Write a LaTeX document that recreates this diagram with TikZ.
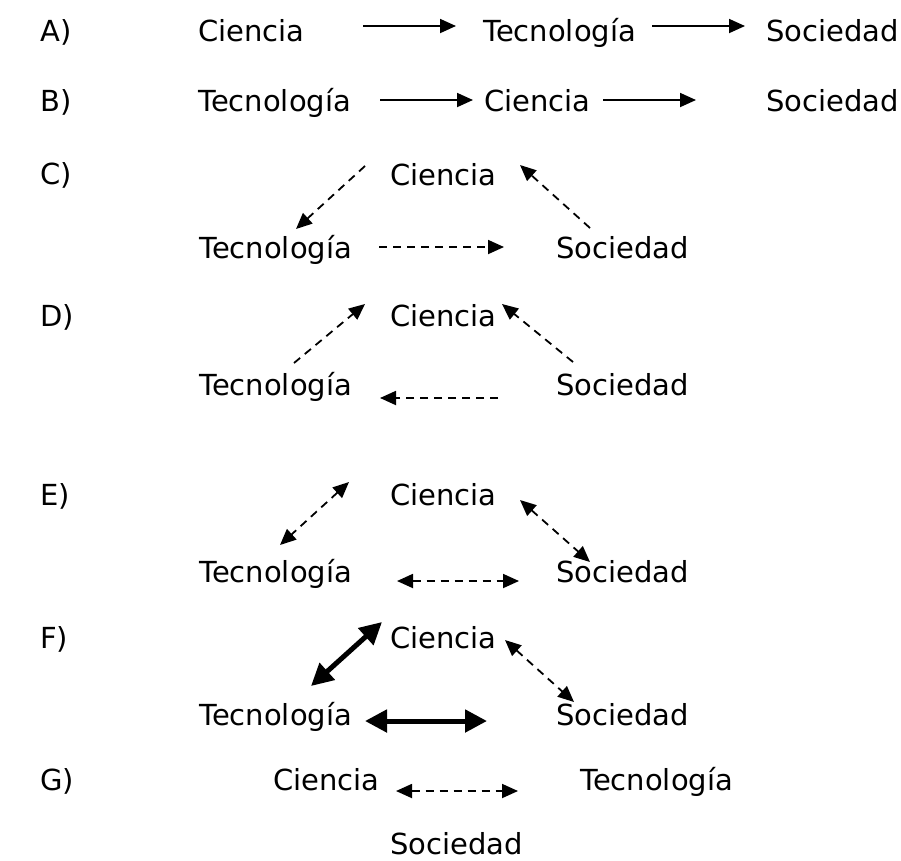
\documentclass[tikz,border=0pt]{standalone}
\usepackage{fontspec}
\setmainfont{DejaVu Sans}
\usetikzlibrary{arrows.meta}
\begin{document}
\begin{tikzpicture}[x=1pt,y=-1pt,
  lbl/.style={anchor=base west,inner sep=0pt,font=\fontsize{29}{34}\selectfont},
  solidarr/.style={line width=1.8pt,-{Triangle[length=16pt,width=14pt]}},
  dasharr/.style={line width=1.8pt,dash pattern=on 8pt off 6pt,-{Triangle[length=16pt,width=14pt]}},
  dashdbl/.style={line width=1.8pt,dash pattern=on 8pt off 6pt,{Triangle[length=16pt,width=14pt]}-{Triangle[length=16pt,width=14pt]}},
  thickdbl/.style={line width=5pt,{Triangle[length=22pt,width=22pt]}-{Triangle[length=22pt,width=22pt]}}]
\useasboundingbox (0,0) rectangle (901,860);
% labels
\node[lbl] (la) at (40,41) {A)};
\node[lbl] (lb) at (40,111) {B)};
\node[lbl] (lc) at (40,184) {C)};
\node[lbl] (ld) at (40,326) {D)};
\node[lbl] (le) at (40,505) {E)};
\node[lbl] (lf) at (40,648) {F)};
\node[lbl] (lg) at (40,790) {G)};
% Row A
\node[lbl] (aC) at (198,41) {Ciencia};
\node[lbl] (aT) at (483,41) {Tecnología};
\node[lbl] (aS) at (766,41) {Sociedad};
\coordinate (a1s) at (363,26); \coordinate (a1e) at (456,26);
\coordinate (a2s) at (652,26); \coordinate (a2e) at (745,26);
\draw[solidarr] (a1s) -- (a1e);
\draw[solidarr] (a2s) -- (a2e);
% Row B
\node[lbl] (bT) at (198,111) {Tecnología};
\node[lbl] (bC) at (484,111) {Ciencia};
\node[lbl] (bS) at (766,111) {Sociedad};
\coordinate (b1s) at (380,100); \coordinate (b1e) at (473,100);
\coordinate (b2s) at (603,100); \coordinate (b2e) at (696,100);
\draw[solidarr] (b1s) -- (b1e);
\draw[solidarr] (b2s) -- (b2e);
% Row C
\node[lbl] (cC) at (390,185) {Ciencia};
\node[lbl] (cT) at (199,258) {Tecnología};
\node[lbl] (cS) at (556,258) {Sociedad};
\coordinate (c1s) at (365,166); \coordinate (c1e) at (296,229);
\coordinate (c2s) at (590,228); \coordinate (c2e) at (520,165);
\coordinate (c3s) at (379,247); \coordinate (c3e) at (504,247);
\draw[dasharr] (c1s) -- (c1e);
\draw[dasharr] (c2s) -- (c2e);
\draw[dasharr] (c3s) -- (c3e);
% Row D
\node[lbl] (dC) at (390,326) {Ciencia};
\node[lbl] (dT) at (199,395) {Tecnología};
\node[lbl] (dS) at (556,395) {Sociedad};
\coordinate (d1s) at (294,363); \coordinate (d1e) at (365,304);
\coordinate (d2s) at (573,362); \coordinate (d2e) at (502,304);
\coordinate (d3s) at (498,398); \coordinate (d3e) at (380,398);
\draw[dasharr] (d1s) -- (d1e);
\draw[dasharr] (d2s) -- (d2e);
\draw[dasharr] (d3s) -- (d3e);
% Row E
\node[lbl] (eC) at (390,505) {Ciencia};
\node[lbl] (eT) at (199,582) {Tecnología};
\node[lbl] (eS) at (556,582) {Sociedad};
\coordinate (e1s) at (349,482); \coordinate (e1e) at (280,545);
\coordinate (e2s) at (520,500); \coordinate (e2e) at (590,562);
\coordinate (e3s) at (397,581); \coordinate (e3e) at (519,581);
\draw[dashdbl] (e1s) -- (e1e);
\draw[dashdbl] (e2s) -- (e2e);
\draw[dashdbl] (e3s) -- (e3e);
% Row F
\node[lbl] (fC) at (390,648) {Ciencia};
\node[lbl] (fT) at (199,725) {Tecnología};
\node[lbl] (fS) at (556,725) {Sociedad};
\coordinate (f1s) at (382,622); \coordinate (f1e) at (311,686);
\coordinate (f2s) at (505,640); \coordinate (f2e) at (574,702);
\coordinate (f3s) at (365,721); \coordinate (f3e) at (487,721);
\draw[thickdbl] (f1s) -- (f1e);
\draw[dashdbl] (f2s) -- (f2e);
\draw[thickdbl] (f3s) -- (f3e);
% Row G
\node[lbl] (gC) at (273,790) {Ciencia};
\node[lbl] (gT) at (580,790) {Tecnología};
\node[lbl] (gS) at (390,854) {Sociedad};
\coordinate (g1s) at (396,791); \coordinate (g1e) at (518,791);
\draw[dashdbl] (g1s) -- (g1e);
\end{tikzpicture}
\end{document}
